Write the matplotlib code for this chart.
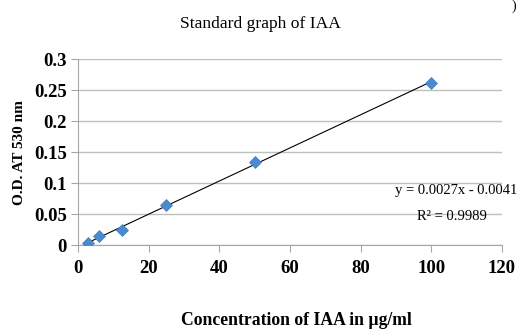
import matplotlib.pyplot as plt
import numpy as np

conc = [3, 6, 12.5, 25, 50, 100]
od = [0.004, 0.0155, 0.024, 0.064, 0.134, 0.262]
x_ticks = [0, 20, 40, 60, 80, 100, 120]
y_ticks = [0, 0.05, 0.1, 0.15, 0.2, 0.25, 0.3]
y_tick_labels = ["0", "0.05", "0.1", "0.15", "0.2", "0.25", "0.3"]


def main():
    plt.rcParams["font.family"] = ["Liberation Serif", "DejaVu Serif"]
    fig = plt.figure(figsize=(5.19, 3.34), dpi=100)
    ax = fig.add_axes([0.150, 0.266, 0.817, 0.557])

    # linear trendline through the standards
    slope, intercept = np.polyfit(conc, od, 1)
    xs = np.array([conc[0], conc[-1]])
    ax.plot(xs, slope * xs + intercept, color="black", lw=0.8, zorder=3)
    ax.plot(conc, od, "D", color="#4a8bd0", markersize=6.5,
            markeredgecolor="#3f7fc4", markeredgewidth=0.5, zorder=4)

    ax.set_xlim(0, 120)
    ax.set_ylim(0, 0.3)
    ax.set_xticks(x_ticks)
    ax.set_yticks(y_ticks)
    ax.set_yticklabels(y_tick_labels)
    ax.grid(axis="y", color="#bfbfbf", lw=1)
    ax.set_axisbelow(True)
    for side in ["top", "right"]:
        ax.spines[side].set_visible(False)
    for side in ["left", "bottom"]:
        ax.spines[side].set_color("#a6a6a6")
    ax.tick_params(axis="both", colors="#a6a6a6", length=5, labelcolor="black",
                   labelsize=13.5)
    ax.tick_params(axis="y", pad=3)
    ax.tick_params(axis="x", pad=6)
    for lab in ax.get_xticklabels() + ax.get_yticklabels():
        lab.set_fontweight("bold")

    ax.set_ylabel("O.D. AT 530 nm", fontsize=11, fontweight="bold", labelpad=6)
    fig.text(0.572, 0.039, "Concentration of IAA in µg/ml", ha="center",
             va="center", fontsize=12.7, fontweight="bold")
    fig.text(0.501, 0.928, "Standard graph of IAA", ha="center", va="center",
             fontsize=12.6)
    fig.text(0.879, 0.431, "y = 0.0027x - 0.0041", ha="center", va="center",
             fontsize=10.5)
    fig.text(0.871, 0.353, "R² = 0.9989", ha="center", va="center",
             fontsize=10.5)
    fig.text(0.99, 1.0, ")", ha="center", va="top", fontsize=10)

    fig.savefig("out.png", dpi=100)


if __name__ == "__main__":
    main()
